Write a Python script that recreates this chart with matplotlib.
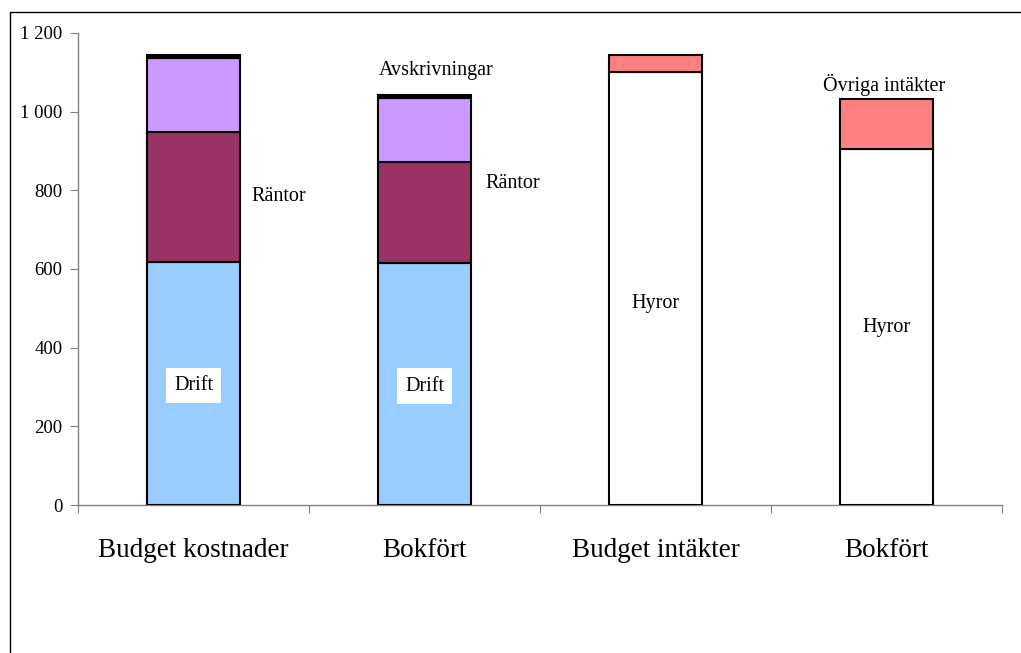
import numpy as np
import matplotlib
matplotlib.use('Agg')
import matplotlib.pyplot as plt
import matplotlib.patches as mpatches
from matplotlib.ticker import FuncFormatter

plt.rcParams['font.family'] = ['Liberation Serif', 'DejaVu Serif']

# Data
categories = ['Budget kostnader', 'Bokfört', 'Budget intäkter', 'Bokfört']
drift = [618, 615, 0, 0]
rantor = [330, 257, 0, 0]
avskrivningar = [189, 162, 0, 0]
ovrigt_kostn = [8, 9, 0, 0]
hyror = [0, 0, 1100, 906]
ovriga_intakter = [0, 0, 45, 126]
y_ticks = [0, 200, 400, 600, 800, 1000, 1200]

# Colors
c_drift = '#99ccff'
c_rantor = '#993366'
c_avskr = '#cc99ff'
c_black = '#000000'
c_hyror = '#ffffff'
c_ovriga = '#ff8080'
c_axis = '#808080'

fig = plt.figure(figsize=(10.21, 6.53), dpi=100)
ax = fig.add_axes([78 / 1021, 1 - 505 / 653, (1002 - 78) / 1021, (505 - 33) / 653])

x = np.arange(len(categories))
w = 0.4
kw = dict(width=w, edgecolor='black', linewidth=1.5, zorder=3)

series = [
    (drift, c_drift),
    (rantor, c_rantor),
    (avskrivningar, c_avskr),
    (ovrigt_kostn, c_black),
    (hyror, c_hyror),
    (ovriga_intakter, c_ovriga),
]
bottom = np.zeros(len(categories))
for vals, col in series:
    vals = np.array(vals, dtype=float)
    mask = vals > 0
    ax.bar(x[mask], vals[mask], bottom=bottom[mask], color=col, **kw)
    bottom += vals

# Segment labels
lbl = dict(fontsize=14.5, ha='center', va='center', zorder=5)
for i in (0, 1):
    ax.text(x[i], drift[i] / 2 - 5, 'Drift',
            bbox=dict(facecolor='white', edgecolor='none', pad=6), **lbl)
ax.text(0.37, 785, 'Räntor', **lbl)
ax.text(1.38, 817, 'Räntor', **lbl)
ax.text(1.05, 1104, 'Avskrivningar', **lbl)
ax.text(2, 513, 'Hyror', **lbl)
ax.text(3, 450, 'Hyror', **lbl)
ax.text(2.99, 1068, 'Övriga intäkter', **lbl)

# Axes styling
ax.set_xlim(-0.5, 3.5)
ax.set_ylim(0, 1200)
ax.set_yticks(y_ticks)
ax.yaxis.set_major_formatter(FuncFormatter(lambda v, p: f'{int(v):,}'.replace(',', ' ')))
ax.set_xticks(np.arange(-0.5, 4.0, 1.0))
ax.set_xticklabels([])
ax.set_xticks(x, minor=True)
ax.set_xticklabels(categories, minor=True, fontsize=19.5)
ax.tick_params(axis='x', which='minor', length=0, pad=24)
ax.tick_params(axis='x', which='major', length=6, color=c_axis, direction='out')
ax.tick_params(axis='y', length=6, color=c_axis, labelsize=13.5, pad=5)

for s in ('top', 'right'):
    ax.spines[s].set_visible(False)
for s in ('left', 'bottom'):
    ax.spines[s].set_color(c_axis)
    ax.spines[s].set_linewidth(1)

# Outer frame (chart area border)
frame = mpatches.Rectangle((10 / 1021, -0.5), 2, 0.5 + 1 - 12 / 653,
                           transform=fig.transFigure, fill=False,
                           edgecolor='black', linewidth=1)
fig.patches.append(frame)

fig.savefig('out.png', dpi=100, facecolor='white')
